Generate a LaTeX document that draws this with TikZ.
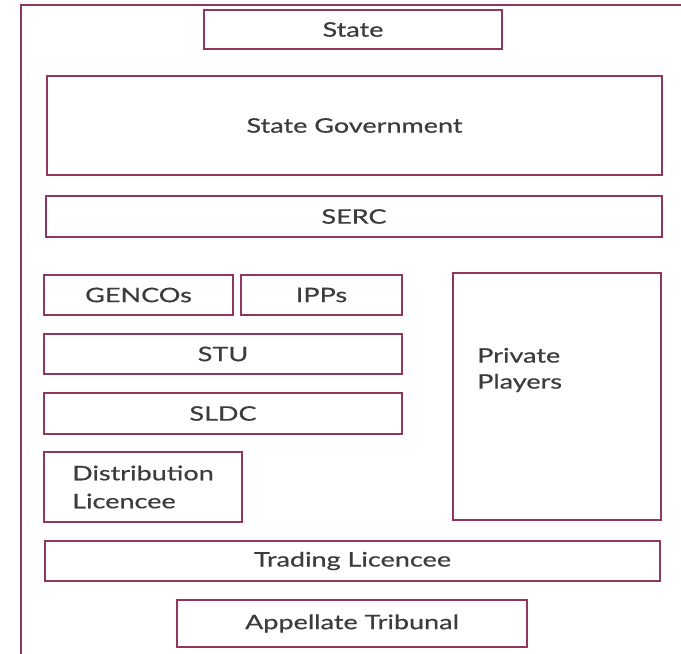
\documentclass[tikz,border=0pt]{standalone}
\usepackage{fontspec}
\setmainfont[FakeStretch=1.35,FakeBold=0.6]{Lato}
\definecolor{boxline}{RGB}{145,55,95}
\definecolor{txt}{RGB}{60,60,60}
\begin{document}
\begin{tikzpicture}[x=1pt,y=-1pt,
  box/.style={draw=boxline,line width=1.8pt,rectangle,inner sep=0pt,text=txt,
    font=\fontsize{20}{28}\selectfont},
  frame/.style={draw=boxline,line width=1.8pt}]
\useasboundingbox (0,0) rectangle (681,654);
\coordinate (fbl) at (21,655);
\coordinate (ftl) at (21,5);
\coordinate (ftr) at (682,5);
\draw[frame] (fbl) -- (ftl) -- (ftr);
\node[box,minimum width=298,minimum height=39] (state) at (353,29.5) {State};
\node[box,minimum width=615,minimum height=99] (stategov) at (354.5,125.5) {State Government};
\node[box,minimum width=616,minimum height=41] (serc) at (354,216.5) {SERC};
\node[box,minimum width=189,minimum height=40] (gencos) at (138.5,295) {GENCOs};
\node[box,minimum width=161,minimum height=40] (ipps) at (321.5,295) {IPPs};
\node[box,minimum width=358,minimum height=40] (stu) at (223,354) {STU};
\node[box,minimum width=358,minimum height=41] (sldc) at (223,413.5) {SLDC};
\node[box,minimum width=198,minimum height=70] (dist) at (143,487) {};
\node[text=txt,font=\fontsize{20}{28}\selectfont,align=left,inner sep=0pt] (disttext) at (dist.center) {Distribution\\Licencee};
\node[box,minimum width=208,minimum height=247] (private) at (557,396.5) {};
\node[text=txt,font=\fontsize{20}{26}\selectfont,align=left,inner sep=0pt,anchor=west] (privtext) at (477,370) {Private\\Players};
\node[box,minimum width=615,minimum height=40] (trading) at (352.5,561) {Trading Licencee};
\node[box,minimum width=350,minimum height=47] (appellate) at (352,623.5) {Appellate Tribunal};
\end{tikzpicture}
\end{document}
